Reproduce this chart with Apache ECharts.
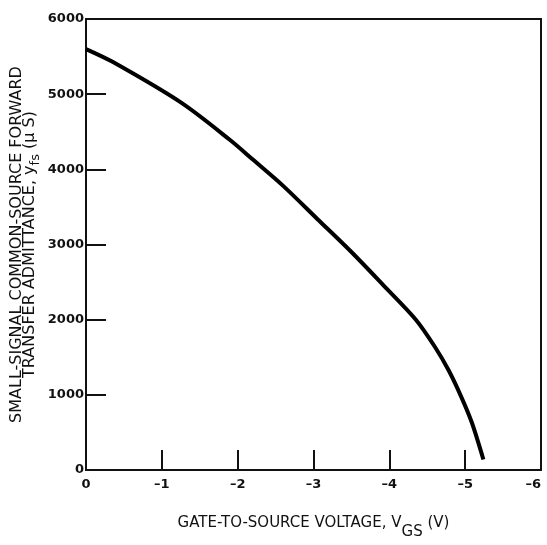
<!DOCTYPE html>
<html>
<head>
<meta charset="utf-8">
<script src="https://cdn.jsdelivr.net/npm/echarts@6/dist/echarts.min.js"></script>
<style>
html, body { margin: 0; padding: 0; background: #fff; }
#main { width: 547px; height: 545px; }
</style>
</head>
<body>
<div id="main"></div>
<script>
// Courbe : tension grille-source (V) et admittance (µS)
var vgs = [0, -0.35, -1.25, -1.9, -2.2, -2.6, -3.05, -3.5, -3.92, -4.35, -4.6, -4.78, -4.95, -5.09, -5.24];
var yfs = [5600, 5430, 4890, 4390, 4130, 3780, 3340, 2900, 2460, 2000, 1640, 1330, 970, 625, 140];

var xTicks = ['0', '\u20131', '\u20132', '\u20133', '\u20134', '\u20135', '\u20136'];
var yTicks = ['0', '1000', '2000', '3000', '4000', '5000', '6000'];

var points = [];
for (var i = 0; i < vgs.length; i++) {
	points.push([vgs[i], yfs[i]]);
}

var ink = '#111';
var font = 'DejaVu Sans';

var myChart = echarts.init(document.getElementById('main'));

var option = {
	animation: false,
	grid: {
		left: 86, top: 19, right: 6, bottom: 75,
		outerBoundsMode: 'none',
		containLabel: false,
		show: true,
		borderColor: ink,
		borderWidth: 2
	},
	xAxis: {
		type: 'value',
		min: -6, max: 0, interval: 1,
		inverse: true,
		axisLine: { lineStyle: { color: ink, width: 2 } },
		axisTick: { inside: true, length: 20, lineStyle: { color: ink, width: 2 } },
		splitLine: { show: false },
		axisLabel: {
			color: ink, fontFamily: font, fontSize: 13, fontWeight: 'bold', margin: 8,
			alignMinLabel: 'right',
			formatter: function(v) { return xTicks[Math.round(-v)]; }
		},
		name: '{a|GATE-TO-SOURCE VOLTAGE, V}{s|GS}{a| (V)}',
		nameLocation: 'middle',
		nameGap: 46,
		nameMoveOverlap: false,
		nameTextStyle: {
			rich: {
				a: { fontFamily: font, fontSize: 15, color: ink, verticalAlign: 'top' },
				s: { fontFamily: font, fontSize: 15, color: ink, padding: [9, 0, 0, 0], verticalAlign: 'top' }
			}
		}
	},
	yAxis: {
		type: 'value',
		min: 0, max: 6000, interval: 1000,
		axisLine: { lineStyle: { color: ink, width: 2 } },
		axisTick: { inside: true, length: 20, lineStyle: { color: ink, width: 2 } },
		splitLine: { show: false },
		axisLabel: {
			color: ink, fontFamily: font, fontSize: 13, fontWeight: 'bold', margin: 2,
			formatter: function(v) { return yTicks[Math.round(v / 1000)]; }
		},
		name: '{a|SMALL-SIGNAL COMMON-SOURCE FORWARD}\n{a|TRANSFER ADMITTANCE, y}{s|fs}{a| (\u03bc S)}',
		nameLocation: 'middle',
		nameGap: 51,
		nameMoveOverlap: false,
		nameTextStyle: {
			align: 'center',
			rich: {
				a: { fontFamily: font, fontSize: 16, color: ink, lineHeight: 13, verticalAlign: 'top' },
				s: { fontFamily: font, fontSize: 13, color: ink, lineHeight: 13, padding: [7, 0, 0, 0], verticalAlign: 'top' }
			}
		}
	},
	series: [{
		type: 'line',
		data: points,
		smooth: 0.3,
		showSymbol: false,
		lineStyle: { color: '#000', width: 4 }
	}]
};

myChart.setOption(option);
</script>
</body>
</html>
